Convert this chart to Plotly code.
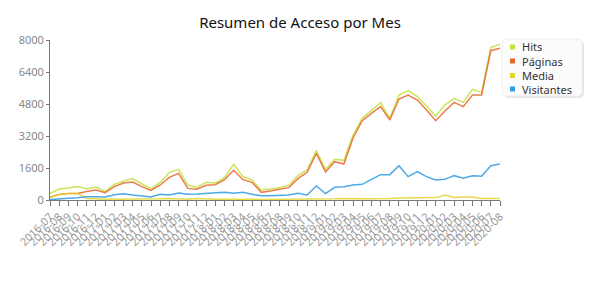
import plotly.graph_objects as go

months = []
for y in range(2016, 2021):
    for m in range(1, 13):
        if (y == 2016 and m < 7) or (y == 2020 and m > 8):
            continue
        months.append(f"{y}-{m:02d}")

hits = [330, 550, 600, 670, 550, 650, 430, 780, 950, 1070, 800, 570, 880, 1380, 1530, 750, 630,
        883, 850, 1117, 1783, 1167, 1000, 500, 550, 617, 733, 1217, 1500, 2467, 1533, 2033, 1983,
        3250, 4083, 4500, 4867, 4083, 5250, 5467, 5167, 4700, 4200, 4750, 5083, 4883, 5533, 5383,
        7633, 7783]
paginas = [150, 280, 330, 330, 420, 500, 370, 670, 850, 900, 670, 480, 750, 1130, 1330, 580, 540,
           733, 767, 1017, 1483, 1017, 883, 383, 450, 517, 617, 1067, 1383, 2333, 1400, 1917, 1800,
           3100, 3967, 4333, 4667, 4000, 5050, 5250, 5000, 4500, 3967, 4450, 4883, 4667, 5250, 5250,
           7467, 7583]
media = [130, 270, 320, 330, 80, 50, 40, 40, 40, 50, 50, 40, 60, 80, 60, 40, 70,
         40, 40, 40, 50, 40, 40, 30, 30, 30, 40, 40, 40, 50, 40, 60, 80,
         60, 60, 60, 60, 70, 100, 100, 90, 100, 120, 250, 130, 150, 150, 80,
         80, 80]
visitantes = [20, 33, 83, 117, 167, 167, 150, 267, 317, 250, 183, 150, 283, 250, 350, 283, 300,
              317, 333, 383, 333, 383, 283, 217, 217, 250, 250, 333, 250, 700, 317, 633, 667,
              750, 783, 1033, 1267, 1267, 1717, 1167, 1417, 1167, 1000, 1033, 1217, 1083, 1217, 1183,
              1717, 1800]

names = ["Hits", "Páginas", "Media", "Visitantes"]
colors = ["#c2e23c", "#e8652f", "#e3d628", "#2f9be3"]
data = [hits, paginas, media, visitantes]

# pixel -> paper helpers (plot area x:50..500, y:40..200)
L, R, T, B = 50, 100, 40, 100
W, H = 600, 300
PW, PH = W - L - R, H - T - B
def px(p):
    return (p - L) / PW
def py(p):
    return (H - B - p) / PH

fig = go.Figure()
for name, vals, col in zip(names, data, colors):
    fig.add_trace(go.Scatter(x=months, y=vals, mode="lines", name=name,
                             line=dict(color=col, width=1.5), opacity=0.85,
                             showlegend=False, hoverinfo="x+y+name"))

def rrect(x0, y0, x1, y1, r):
    return (f"M {px(x0 + r)},{py(y0)} L {px(x1 - r)},{py(y0)} "
            f"Q {px(x1)},{py(y0)} {px(x1)},{py(y0 + r)} L {px(x1)},{py(y1 - r)} "
            f"Q {px(x1)},{py(y1)} {px(x1 - r)},{py(y1)} L {px(x0 + r)},{py(y1)} "
            f"Q {px(x0)},{py(y1)} {px(x0)},{py(y1 - r)} L {px(x0)},{py(y0 + r)} "
            f"Q {px(x0)},{py(y0)} {px(x0 + r)},{py(y0)} Z")

shapes = []
shapes.append(dict(type="path", xref="paper", yref="paper", path=rrect(504, 41, 584, 98, 5),
                   fillcolor="rgba(0,0,0,0.10)", line=dict(width=0), layer="above"))
shapes.append(dict(type="path", xref="paper", yref="paper", path=rrect(502, 39, 582, 96, 5),
                   fillcolor="#fcfcfc", line=dict(color="#eeeeee", width=1), layer="above"))
annotations = []
rows = [47, 61, 75.5, 89]
for name, col, ry in zip(names, colors, rows):
    shapes.append(dict(type="rect", xref="paper", yref="paper",
                       x0=px(510), x1=px(515), y0=py(ry + 2.5), y1=py(ry - 2.5),
                       fillcolor=col, line=dict(width=0), layer="above"))
    annotations.append(dict(text=name, xref="paper", yref="paper", x=px(521), y=py(ry),
                            xanchor="left", yanchor="middle", showarrow=False,
                            borderpad=0,
                            font=dict(family="Noto Sans", size=11, color="#333")))

fig.update_layout(
    width=W, height=H,
    margin=dict(l=L, r=R, t=T, b=B),
    paper_bgcolor="white", plot_bgcolor="white",
    showlegend=False,
    title=dict(text="Resumen de Acceso por Mes", x=0.5, xanchor="center",
               y=0.925, yanchor="middle",
               font=dict(family="Noto Sans", size=15, color="#111")),
    font=dict(family="Noto Sans", size=11, color="#888"),
    shapes=shapes, annotations=annotations,
    xaxis=dict(type="category", range=[0, len(months) - 1], showgrid=False,
               tickmode="array", tickvals=months, ticktext=months,
               showline=True, linecolor="#777", linewidth=1, ticks="outside",
               ticklen=5, tickcolor="#777", tickangle=-45,
               tickfont=dict(family="Noto Sans", size=11, color="#999"), zeroline=False),
    yaxis=dict(range=[0, 8000], tickvals=[0, 1600, 3200, 4800, 6400, 8000],
               showgrid=False, showline=True, linecolor="#777", linewidth=1,
               ticks="outside", ticklen=3, tickcolor="#777",
               tickfont=dict(family="Noto Sans", size=11, color="#888"), zeroline=False),
)

fig.write_html("out.html")
